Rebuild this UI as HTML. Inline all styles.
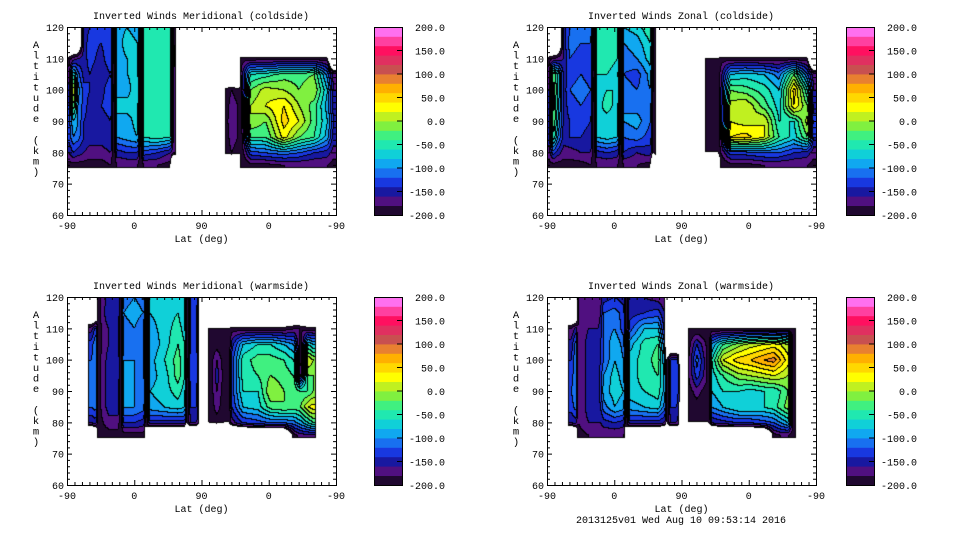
<!DOCTYPE html>
<html><head><meta charset="utf-8">
<style>
html,body{margin:0;padding:0;background:#fff;}
#root{position:relative;width:960px;height:540px;overflow:hidden;font-family:"Liberation Mono",monospace;}
canvas{position:absolute;}
svg{position:absolute;left:0;top:0;}
</style></head>
<body>
<div id="root">
<svg id="svg" width="960" height="540"></svg>
</div>
<script>
const n = null;
const altRows = [120,115,110,105,100,95,90,85,80,76];
const levelColors = ["#200830","#501080","#1818a0","#1838e0","#1870f0","#10a8f0","#10d0d8","#20e8b0","#40f080","#80f040","#c0f020","#ffff00","#ffd800","#ffb000","#e88030","#c85050","#e03060","#ff1060","#ff40a0","#ff70f0"];
const cbarLabels = ["200.0","150.0","100.0","50.0","0.0","-50.0","-100.0","-150.0","-200.0"];
const cbarValues = [200,150,100,50,0,-50,-100,-150,-200];
const yTicks = [60,70,80,90,100,110,120];
const xTickLabels = ["-90","0","90","0","-90"];
const xTickTrack = [0,90,180,270,360];

const colsTop = [2,8,14,22,30,45,58,62,66,80,94,98,102,120,138,142,146,147,211,212,220,228,232,245,265,290,310,330,348,356];
const valsTL = [
[n,n,n,-150,-140,-130,-120,-200,-90,-80,-90,-200,-50,-40,-50,-200,-160,n,n,n,n,n,n,n,n,n,n,n,n,n],
[n,n,n,-150,-130,-140,-120,-200,-90,-70,-80,-200,-50,-40,-50,-200,-160,n,n,n,n,n,n,n,n,n,n,n,n,n],
[-190,-170,-160,-150,-130,-150,-120,-200,-90,-80,-80,-200,-50,-40,-50,-190,-150,n,n,n,n,n,-190,-190,-190,-190,-190,-190,-190,n],
[-170,-60,-110,-150,-140,-160,-140,-200,-100,-80,-70,-200,-60,-40,-50,-180,-150,n,n,n,n,n,-180,-60,-50,-30,-30,-20,-110,-170],
[-150,30,-90,-130,-140,-150,-120,-200,-80,-90,-60,-200,-60,-40,-50,-180,-150,n,n,-190,-180,-190,-200,-20,10,0,-20,0,-80,-160],
[-140,-20,-100,-130,-150,-140,-130,-200,-80,-70,-70,-200,-50,-40,-50,-170,-150,n,n,-190,-170,-180,-200,0,20,40,0,-30,-90,-150],
[-130,-80,-100,-140,-150,-150,-140,-200,-80,-90,-70,-200,-50,-40,-50,-170,-150,n,n,-190,-160,-180,-200,0,-20,50,20,-30,-80,-140],
[-130,-100,-110,-140,-150,-150,-140,-200,-100,-90,-80,-200,-60,-50,-60,-170,-150,n,n,-190,-170,-180,-200,-40,-40,30,-20,-40,-90,-150],
[-160,-140,-150,-160,-170,-170,-160,-200,-150,-140,-140,-200,-130,-140,-160,-180,-170,n,n,-190,-180,-190,-200,-130,-120,-110,-120,-140,-150,-170],
[-190,-190,-190,-190,-190,-190,-180,-200,-180,-180,-180,-200,-180,-180,-190,n,n,n,n,n,n,n,-200,-190,-190,-180,-180,-180,-180,-190]
];
const valsTR = [
[n,n,n,-150,-120,-120,-110,-200,-50,-60,-60,-200,-80,-70,-40,-200,-160,n,n,n,n,n,n,n,n,n,n,n,n,n],
[n,n,n,-150,-110,-120,-120,-200,-50,-40,-60,-200,-100,-90,-60,-200,-160,n,n,n,n,n,n,n,n,n,n,n,n,n],
[-190,-180,-170,-160,-120,-130,-120,-200,-60,-50,-60,-200,-110,-100,-70,-200,-160,n,n,-200,-200,-200,-190,-190,-190,-190,-190,-190,-190,n],
[-170,-20,-60,-150,-130,-120,-130,-200,-60,-60,-70,-200,-120,-130,-90,-200,-160,n,n,-200,-200,-200,-170,-80,-70,-80,-110,-20,-120,-170],
[-160,-10,-60,-150,-120,-110,-120,-200,-70,-60,-60,-200,-110,-120,-100,-200,-160,n,n,-200,-200,-200,-160,-20,-30,-50,-80,50,-60,-160],
[-150,-10,-70,-150,-130,-120,-130,-200,-70,-50,-70,-200,-100,-110,-110,-200,-160,n,n,-200,-200,-200,-160,10,20,-30,-70,40,-20,-150],
[-150,-20,-80,-150,-140,-130,-140,-200,-70,-70,-80,-200,-100,-90,-120,-200,-160,n,n,-200,-200,-200,-160,20,10,20,-60,-60,10,-130],
[-150,-40,-100,-150,-140,-140,-150,-200,-80,-70,-80,-200,-120,-110,-130,-200,-160,n,n,-200,-200,-200,-160,40,50,20,-40,-70,-20,-140],
[-170,-130,-150,-170,-170,-160,-160,-200,-150,-140,-150,-200,-140,-160,-150,-200,-170,n,n,-200,-200,-200,-180,-130,-130,-120,-120,-140,-150,-170],
[-190,-190,-190,-190,-190,-190,-180,-200,-180,-180,-180,-200,-180,-180,-190,n,n,n,n,n,n,n,-200,-190,-190,-180,-180,-180,-180,-190]
];
const colsBot = [32,38,41,55,68,71,75,90,102,105,110,130,148,157,160,165,173,177,178,188,189,200,212,216,220,235,255,272,290,303,312,322,329];
const valsBL = [
[n,n,-190,-150,-140,-200,-110,-100,-110,-200,-70,-60,-60,-80,-200,-130,-130,-200,n,n,n,n,n,n,n,n,n,n,n,n,n,n,n],
[n,n,-190,-140,-140,-200,-100,-90,-100,-200,-80,-70,-60,-80,-200,-130,-140,-200,n,n,n,n,n,n,n,n,n,n,n,n,n,n,n],
[-170,-130,-190,-160,-150,-200,-110,-100,-120,-200,-90,-70,-50,-70,-200,-130,-140,-200,n,n,-200,-200,-200,-200,-190,-190,-190,-190,-190,-180,-180,-190,-190],
[-130,-100,-190,-160,-150,-200,-110,-110,-120,-200,-100,-70,-40,-60,-200,-130,-140,-200,n,n,-200,-190,-200,-200,-150,-80,-60,-60,-80,-100,-200,-60,-80],
[-120,-100,-190,-150,-140,-200,-100,-100,-110,-200,-90,-60,-30,-60,-200,-120,-130,-200,n,n,-200,-160,-200,-200,-130,-50,-30,-30,-40,-60,-200,20,0],
[-110,-100,-190,-150,-140,-200,-90,-100,-110,-200,-90,-70,-30,-60,-200,-120,-130,-200,n,n,-200,-150,-200,-200,-130,-50,-40,-20,-30,-40,-170,-20,-20],
[-110,-100,-190,-150,-150,-200,-90,-100,-100,-200,-80,-70,-50,-70,-200,-130,-140,-200,n,n,-200,-160,-200,-200,-130,-60,-60,0,-20,-20,-40,-40,-20],
[-120,-110,-190,-150,-150,-200,-100,-100,-110,-200,-90,-80,-70,-80,-200,-140,-140,-200,n,n,-200,-170,-200,-200,-140,-80,-70,-30,-20,-30,-20,20,30],
[-160,-150,-190,-170,-170,-200,-140,-140,-150,-200,-150,-150,-150,-150,-200,-160,-160,-200,n,n,-200,-190,-200,-200,-170,-140,-130,-120,-120,-110,-90,-60,-40],
[n,n,-190,-190,-190,-200,-190,-190,-190,-200,n,n,n,n,n,n,n,n,n,n,n,n,n,n,n,n,n,n,n,-190,-170,-170,-170]
];
const valsBR = [
[n,n,-180,-180,-180,-170,-150,-140,-150,-200,-150,-160,-170,-180,n,n,n,n,n,n,n,n,n,n,n,n,n,n,n,n,n,n,n],
[n,n,-180,-170,-170,-160,-120,-110,-130,-200,-150,-140,-130,-160,n,n,n,n,n,n,n,n,n,n,n,n,n,n,n,n,n,n,n],
[-180,-150,-180,-160,-160,-150,-120,-100,-130,-200,-130,-80,-80,-150,n,n,n,n,n,n,-200,-200,-200,-200,-200,-200,-200,-200,-200,-200,-200,-200,-200],
[-150,-110,-180,-150,-150,-140,-120,-80,-110,-200,-90,-50,-40,-120,n,n,n,n,n,n,-190,-140,-180,-200,-100,-40,-10,10,20,30,20,0,-200],
[-140,-100,-180,-150,-150,-140,-120,-80,-100,-200,-70,-50,-30,-100,-200,-140,-130,-160,n,n,-180,-110,-170,-200,-60,20,50,60,80,90,60,30,-200],
[-130,-100,-180,-150,-150,-130,-100,-70,-90,-200,-70,-50,-40,-90,-200,-130,-120,-150,n,n,-180,-130,-170,-200,-70,-40,-10,0,10,20,10,0,-200],
[-120,-100,-180,-150,-150,-130,-90,-70,-80,-200,-70,-60,-50,-90,-200,-130,-130,-150,n,n,-190,-170,-190,-200,-80,-60,-60,-70,-60,-60,-40,-20,-200],
[-130,-110,-180,-150,-150,-140,-110,-80,-90,-200,-90,-80,-70,-110,-200,-140,-140,-160,n,n,-200,-190,-200,-200,-100,-80,-60,-60,-60,-50,-30,-10,-200],
[-160,-150,-180,-160,-160,-160,-150,-140,-150,-200,-150,-150,-150,-160,-200,-160,-160,-180,n,n,-200,-200,-200,-200,-160,-150,-140,-140,-130,-120,-100,-80,-190],
[n,n,-190,-180,-180,-180,-180,-180,-180,-200,n,n,n,n,n,n,n,n,n,n,n,n,n,n,n,n,n,n,n,-190,-180,-180,-190]
];

const panels = [
 {title:"Inverted Winds Meridional (coldside)", ox:0, oy:0, cbx:374, cols:colsTop, vals:valsTL, name:"meridional-coldside"},
 {title:"Inverted Winds Zonal (coldside)", ox:480, oy:0, cbx:846, cols:colsTop, vals:valsTR, name:"zonal-coldside"},
 {title:"Inverted Winds Meridional (warmside)", ox:0, oy:270, cbx:374, cols:colsBot, vals:valsBL, name:"meridional-warmside"},
 {title:"Inverted Winds Zonal (warmside)", ox:480, oy:270, cbx:846, cols:colsBot, vals:valsBR, name:"zonal-warmside"}
];

const svg = document.getElementById('svg');
const root = document.getElementById('root');
const NS = "http://www.w3.org/2000/svg";
function mk(tag, attrs, parent){const e=document.createElementNS(NS,tag);for(const k in attrs)e.setAttribute(k,attrs[k]);(parent||svg).appendChild(e);return e;}
function txt(s,x,y,anchor,parent){const e=mk('text',{x:x,y:y,'text-anchor':anchor||'start','font-size':'10','font-family':'Liberation Mono, monospace',fill:'#000'},parent);e.textContent=s;return e;}

const PW=269, PH=188, EMPTY=-290;
function gv(vals,j,i){const v=vals[j][i];return v===null?EMPTY:v;}
function valueAt(cols, vals, t, a){
  if(t<cols[0]-4||t>cols[cols.length-1]+4)return null;
  if(a>altRows[0]||a<altRows[altRows.length-1]-1)return null;
  t=Math.max(cols[0],Math.min(cols[cols.length-1],t));
  a=Math.max(altRows[altRows.length-1],a);
  let i=0; while(i<cols.length-2 && t>cols[i+1]) i++;
  let j=0; while(j<altRows.length-2 && a<altRows[j+1]) j++;
  const v00=gv(vals,j,i),v01=gv(vals,j,i+1),v10=gv(vals,j+1,i),v11=gv(vals,j+1,i+1);
  const fx=(t-cols[i])/(cols[i+1]-cols[i]);
  const fy=(altRows[j]-a)/(altRows[j]-altRows[j+1]);
  const v=(v00*(1-fx)+v01*fx)*(1-fy)+(v10*(1-fx)+v11*fx)*fy;
  return v<-200?null:v;
}
function hexRgb(h){return [parseInt(h.substr(1,2),16),parseInt(h.substr(3,2),16),parseInt(h.substr(5,2),16)];}
const rgbLevels = levelColors.map(hexRgb);

panels.forEach(p=>{
  const px=p.ox+67, py=p.oy+27;
  const g=mk('g',{});
  
  
  const cv=document.createElement('canvas');
  cv.width=PW; cv.height=PH;
  cv.style.left=px+'px'; cv.style.top=py+'px';
  
  
  root.insertBefore(cv, svg);
  const ctx=cv.getContext('2d');
  const img=ctx.createImageData(PW,PH);
  const lev=new Int16Array(PW*PH);
  for(let y=0;y<PH;y++)for(let x=0;x<PW;x++){
    const t=(x+0.5)/PW*360, a=120-(y+0.5)/PH*60;
    const v=valueAt(p.cols,p.vals,t,a);
    lev[y*PW+x]= v===null?-1:Math.max(0,Math.min(19,Math.floor((v+200)/20)));
  }
  for(let y=0;y<PH;y++)for(let x=0;x<PW;x++){
    const L=lev[y*PW+x], k=(y*PW+x)*4;
    let c;
    if(L<0){c=[255,255,255];}
    else{
      const l=x>0?lev[y*PW+x-1]:L, u=y>0?lev[(y-1)*PW+x]:L;
      const r=x<PW-1?lev[y*PW+x+1]:L, d=y<PH-1?lev[(y+1)*PW+x]:L;
      if(l!==L||u!==L||r<0||d<0)c=[0,0,0]; else c=rgbLevels[L];
    }
    img.data[k]=c[0];img.data[k+1]=c[1];img.data[k+2]=c[2];img.data[k+3]=255;
  }
  ctx.putImageData(img,0,0);
  const fr=mk('rect',{x:px+0.5,y:py+0.5,width:PW,height:PH,fill:'none',stroke:'#000','stroke-width':1},g);
  
  
  const tt=txt(p.title,p.ox+201,p.oy+19,'middle',g);
  
  
  let d='';
  for(let t=0;t<=360;t+=10){
    const x=px+0.5+t/360*PW, len=(t%90===0)?5:3;
    d+=`M${x},${py+PH} v${-len} M${x},${py} v${len} `;
  }
  for(let a=60;a<=120;a+=2){
    const y=py+0.5+(120-a)/60*PH, len=(a%10===0)?5:3;
    d+=`M${px},${y} h${len} M${px+PW},${y} h${-len} `;
  }
  const tk=mk('path',{d:d,stroke:'#000','stroke-width':1,fill:'none'},g);
  
  
  xTickLabels.forEach((s,i)=>{
    const e=txt(s,px+xTickTrack[i]/360*PW,py+PH+14,'middle',g);
    
    
  });
  yTicks.forEach(a=>{
    const e=txt(String(a),px-3,py+(120-a)/60*PH+4,'end',g);
    
    
  });
  const xt=txt("Lat (deg)",px+PW/2,py+PH+27,'middle',g);
  
  
  const yt=mk('text',{x:p.ox+36,y:py+21,'font-size':'10.5','font-family':'Liberation Mono, monospace','text-anchor':'middle'},g);
  
  
  "Altitude (km)".split('').forEach((ch,i)=>{const s=mk('tspan',{x:p.ox+36,dy:i===0?0:10.6},yt);s.textContent=ch===' '?'\u00a0':ch;});
  const cb=mk('g',{},g);
  
  
  const bh=PH/levelColors.length;
  levelColors.forEach((c,i)=>{
    const r=mk('rect',{x:p.cbx,y:py+PH-(i+1)*bh,width:28,height:bh+0.4,fill:c},cb);
    
    
  });
  mk('rect',{x:p.cbx+0.5,y:py+0.5,width:28,height:PH,fill:'none',stroke:'#000'},cb);
  cbarValues.forEach((v,i)=>{
    const y=py+(200-v)/400*PH;
    if(v>-200&&v<200) mk('path',{d:`M${p.cbx+28},${y} h-5`,stroke:'#000'},cb);
    const e=txt(cbarLabels[i],p.cbx+71,y+4,'end',cb);
    
    
  });
});
const ft=txt("2013125v01 Wed Aug 10 09:53:14 2016",681,523,'middle');


</script>
</body></html>
